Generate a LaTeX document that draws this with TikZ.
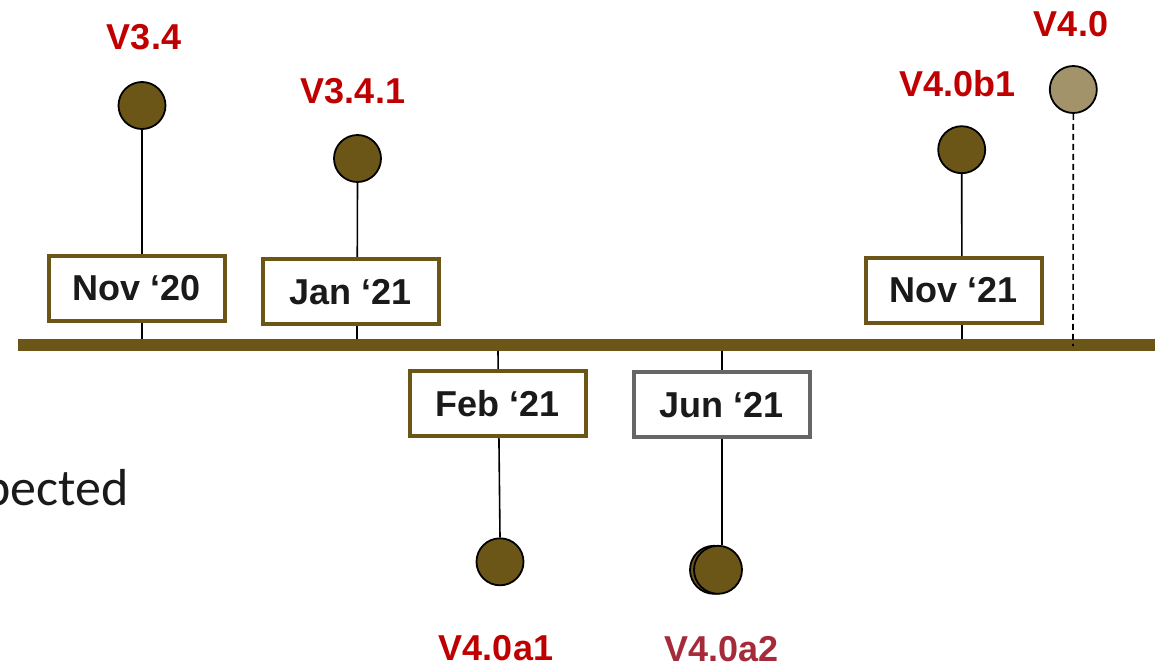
\documentclass[tikz,border=0pt]{standalone}
\usepackage{fontspec}
\setmainfont{Liberation Sans}
\newfontfamily\calibfont{Carlito}
\definecolor{tlbrown}{HTML}{6B5618}
\definecolor{tllight}{HTML}{A3936A}
\definecolor{vred}{HTML}{C00000}
\definecolor{vdred}{HTML}{A52A3A}
\definecolor{txtblack}{HTML}{1A1A1A}
\definecolor{boxgray}{HTML}{666666}
\begin{document}
\begin{tikzpicture}[x=1pt,y=-1pt,
  datebox/.style={draw=tlbrown, line width=4pt, fill=white, minimum width=176pt, minimum height=65pt, inner sep=0pt, font=\bfseries\fontsize{36}{40}\selectfont, text=txtblack},
  rel/.style={circle, draw=black, line width=1.8pt, fill=tlbrown, minimum size=47pt, inner sep=0pt},
  ver/.style={font=\bfseries\fontsize{36}{40}\selectfont, text=vred, inner sep=0pt},
  stem/.style={draw=black, line width=1.6pt}]
\useasboundingbox (0,0) rectangle (1171,667);
% background text fragment
\node[anchor=base east, inner sep=0pt, font=\calibfont\fontsize{52}{60}\selectfont, text=txtblack] (frag) at (129,505) {pected};
% timeline bar
\coordinate (bl) at (18,345);
\coordinate (br) at (1155,345);
\draw[line width=12pt, tlbrown] (bl) -- (br);
% bar points
\coordinate (t1) at (142,339);
\coordinate (t2) at (357,339);
\coordinate (t3) at (498,351);
\coordinate (t4) at (722,351);
\coordinate (t5) at (962,339);
\coordinate (t6) at (1073,346);
% release circles
\node[rel] (c1) at (142,105.5) {};
\node[rel] (c2) at (357.5,158.5) {};
\node[rel] (c5) at (961.7,149.7) {};
\node[rel, fill=tllight] (c6) at (1073.3,89.5) {};
\node[rel] (c3) at (500,561.8) {};
\node[rel, minimum size=48pt] (c4b) at (714,569.8) {};
\node[rel, minimum size=48pt] (c4) at (718,569.8) {};
% stems
\draw[stem] (c1.south) -- (t1);
\draw[stem] (c2.south) -- (t2);
\draw[stem] (c5.south) -- (t5);
\draw[stem, dashed, dash pattern=on 6pt off 4pt] (c6.south) -- (t6);
\draw[stem] (t3) -- (c3.north);
\draw[stem] (t4) -- (c4.north -| t4);
% date boxes
\node[datebox] (d1) at (136.5,288.3) {Nov ‘20};
\node[datebox] (d2) at (350.7,291.8) {Jan ‘21};
\node[datebox] (d5) at (953.7,290) {Nov ‘21};
\node[datebox] (d3) at (497.5,403.5) {Feb ‘21};
\node[datebox, draw=boxgray] (d4) at (722,404.7) {Jun ‘21};
% version labels
\node[ver] (v1) at (144,37.5) {V3.4};
\node[ver] (v2) at (353,91) {V3.4.1};
\node[ver] (v5) at (957.5,83.5) {V4.0b1};
\node[ver] (v6) at (1071,24) {V4.0};
\node[ver] (v3) at (496,648) {V4.0a1};
\node[ver, text=vdred] (v4) at (721.5,649.3) {V4.0a2};
\end{tikzpicture}
\end{document}
